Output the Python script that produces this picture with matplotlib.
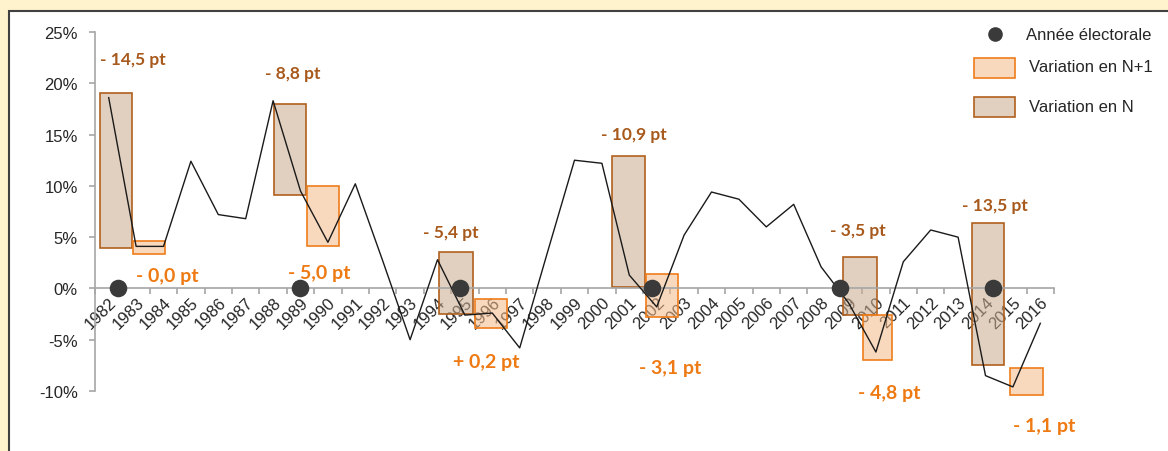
import math
import matplotlib
matplotlib.use("Agg")
import matplotlib.pyplot as plt
from matplotlib.colors import to_rgba
from matplotlib.patches import Rectangle
from matplotlib.lines import Line2D

# =========================
# DATA
# =========================
years = list(range(1982, 2017))

# yearly variation (%)
variation = [
    18.6, 4.1, 4.1, 12.4, 7.2, 6.8, 18.3, 9.5, 4.5, 10.2,
    2.7, -5.0, 2.8, -2.6, -2.4, -5.8, 3.4, 12.5, 12.2, 1.3,
    -1.8, 5.2, 9.4, 8.7, 6.0, 8.2, 2.1, -1.4, -6.2, 2.6,
    5.7, 5.0, -8.5, -9.6, -3.4,
]

# change in the election year (N) and the year after (N+1), in points
change_n = [-14.5, -8.8, -5.4, -10.9, -3.5, -13.5]
change_n1 = [-0.0, -5.0, 0.2, -3.1, -4.8, -1.1]

# highlight frames (top / bottom, %)
box_n_top = [19.1, 18.0, 3.6, 12.9, 3.1, 6.4]
box_n_bottom = [3.9, 9.1, -2.5, 0.1, -2.6, -7.5]
box_n1_top = [4.6, 10.0, -1.0, 1.4, -2.6, -7.8]
box_n1_bottom = [3.4, 4.1, -3.9, -2.8, -7.0, -10.4]

y_ticks = [-10, -5, 0, 5, 10, 15, 20, 25]

# =========================
# LAYOUT (category units)
# =========================
box_n_left = [-0.32, 6.03, 12.05, 18.37, 26.80, 31.51]
box_n_width = [1.17, 1.17, 1.24, 1.20, 1.24, 1.17]
box_n1_left = [0.89, 7.24, 13.37, 19.61, 27.53, 32.89]
box_n1_width = [1.17, 1.17, 1.17, 1.17, 1.06, 1.20]

dot_x = [0.34, 6.98, 12.82, 19.83, 26.69, 32.27]

label_n_pos = [(-0.32, 22.4), (5.70, 21.0), (11.47, 5.5),
               (17.97, 15.1), (26.32, 5.65), (31.14, 8.1)]
label_n1_pos = [(1.0, 1.3), (6.54, 1.6), (12.57, -7.1),
                (19.35, -7.7), (27.35, -10.1), (33.0, -13.35)]

# =========================
# COLORS
# =========================
CREAM = "#FFF3CD"
FRAME = "#404040"
AXIS_GRAY = "#A6A6A6"
TEXT = "#262626"
N_FILL = "#CAAA8C"
N_EDGE = "#B0601E"
N1_FILL = "#F4BA89"
N1_EDGE = "#EE7D1A"
N_LABEL = "#A8591C"
N1_LABEL = "#EE7A14"
DOT = "#3A3A3A"
FILL_ALPHA = 0.55

plt.rcParams["font.family"] = ["Liberation Sans", "DejaVu Sans"]

W, H = 1168, 452
fig = plt.figure(figsize=(W / 100, H / 100), dpi=100)
fig.patch.set_facecolor(CREAM)


def fx(px):
    return px / W


def fy(py):
    return 1 - py / H


# white panel with dark frame
fig.patches.append(Rectangle(
    (fx(9), fy(470)), fx(1190) - fx(9), fy(12) - fy(470),
    transform=fig.transFigure, facecolor="white",
    edgecolor=FRAME, linewidth=1.5, zorder=-1
))

ax = fig.add_axes([fx(95), fy(443.3), fx(1054) - fx(95), fy(33) - fy(443.3)])
ax.set_facecolor("none")

x = list(range(len(years)))

# =========================
# HIGHLIGHT FRAMES
# =========================
for left, w, top, bottom in zip(box_n_left, box_n_width, box_n_top, box_n_bottom):
    ax.add_patch(Rectangle((left, bottom), w, top - bottom,
                           facecolor=to_rgba(N_FILL, FILL_ALPHA),
                           edgecolor=N_EDGE, linewidth=1.2, zorder=2))

for left, w, top, bottom in zip(box_n1_left, box_n1_width, box_n1_top, box_n1_bottom):
    ax.add_patch(Rectangle((left, bottom), w, top - bottom,
                           facecolor=to_rgba(N1_FILL, FILL_ALPHA),
                           edgecolor=N1_EDGE, linewidth=1.2, zorder=2))

# =========================
# VARIATION LINE + ELECTIONS
# =========================
ax.plot(x, variation, color="#1A1A1A", linewidth=1.0, zorder=3)

ax.scatter(dot_x, [0] * len(dot_x), s=160, color=DOT, zorder=4, linewidths=0)


def fmt_change(v):
    sign = "-" if math.copysign(1, v) < 0 else "+"
    return f"{sign} {abs(v):.1f} pt".replace(".", ",")


for v, (lx, ly) in zip(change_n, label_n_pos):
    ax.text(lx, ly, fmt_change(v), color=N_LABEL, fontsize=12.5,
            fontweight="bold", family=["Lato", "DejaVu Sans"],
            ha="left", va="center", zorder=5, clip_on=False)

for v, (lx, ly) in zip(change_n1, label_n1_pos):
    ax.text(lx, ly, fmt_change(v), color=N1_LABEL, fontsize=14,
            fontweight="bold", family=["Lato", "DejaVu Sans"],
            ha="left", va="center", zorder=5, clip_on=False)

# =========================
# AXES
# =========================
ax.set_xlim(-0.5, len(years) - 0.5)
ax.set_ylim(-15, 25)

for side in ["top", "right"]:
    ax.spines[side].set_visible(False)
ax.spines["left"].set_bounds(-10, 25)
ax.spines["bottom"].set_position(("data", 0))
for side in ["left", "bottom"]:
    ax.spines[side].set_color(AXIS_GRAY)
    ax.spines[side].set_linewidth(1.2)

ax.set_yticks(y_ticks)
ax.set_yticklabels([f"{v}%" for v in y_ticks])
ax.tick_params(axis="y", length=4.5, color=AXIS_GRAY, labelsize=12,
               labelcolor=TEXT, pad=8, width=1.2)

ax.set_xticks(x)
ax.set_xticklabels([str(yr) for yr in years], rotation=45, ha="right",
                   rotation_mode="anchor")
ax.set_xticks([i - 0.5 for i in range(len(years) + 1)], minor=True)
ax.tick_params(axis="x", which="major", length=0, labelsize=12,
               labelcolor=TEXT, pad=4)
ax.tick_params(axis="x", which="minor", length=4, color=AXIS_GRAY,
               width=1.2, direction="out")

# =========================
# LEGEND
# =========================
fig.add_artist(Line2D([fx(995)], [fy(35)], marker="o", markersize=9.5,
                      color=DOT, linestyle="none", transform=fig.transFigure))
fig.text(fx(1026), fy(35.5), "Année électorale", fontsize=12, color=TEXT,
         ha="left", va="center")

fig.patches.append(Rectangle((fx(974), fy(79)), fx(1015) - fx(974),
                             fy(59) - fy(79), transform=fig.transFigure,
                             facecolor=to_rgba(N1_FILL, FILL_ALPHA),
                             edgecolor=N1_EDGE, linewidth=1.2))
fig.text(fx(1029), fy(67.5), "Variation en N+1", fontsize=12, color=TEXT,
         ha="left", va="center")

fig.patches.append(Rectangle((fx(974), fy(118)), fx(1015) - fx(974),
                             fy(98) - fy(118), transform=fig.transFigure,
                             facecolor=to_rgba(N_FILL, FILL_ALPHA),
                             edgecolor=N_EDGE, linewidth=1.2))
fig.text(fx(1029), fy(107.5), "Variation en N", fontsize=12, color=TEXT,
         ha="left", va="center")

fig.savefig("out.png", dpi=100, facecolor=fig.get_facecolor())
